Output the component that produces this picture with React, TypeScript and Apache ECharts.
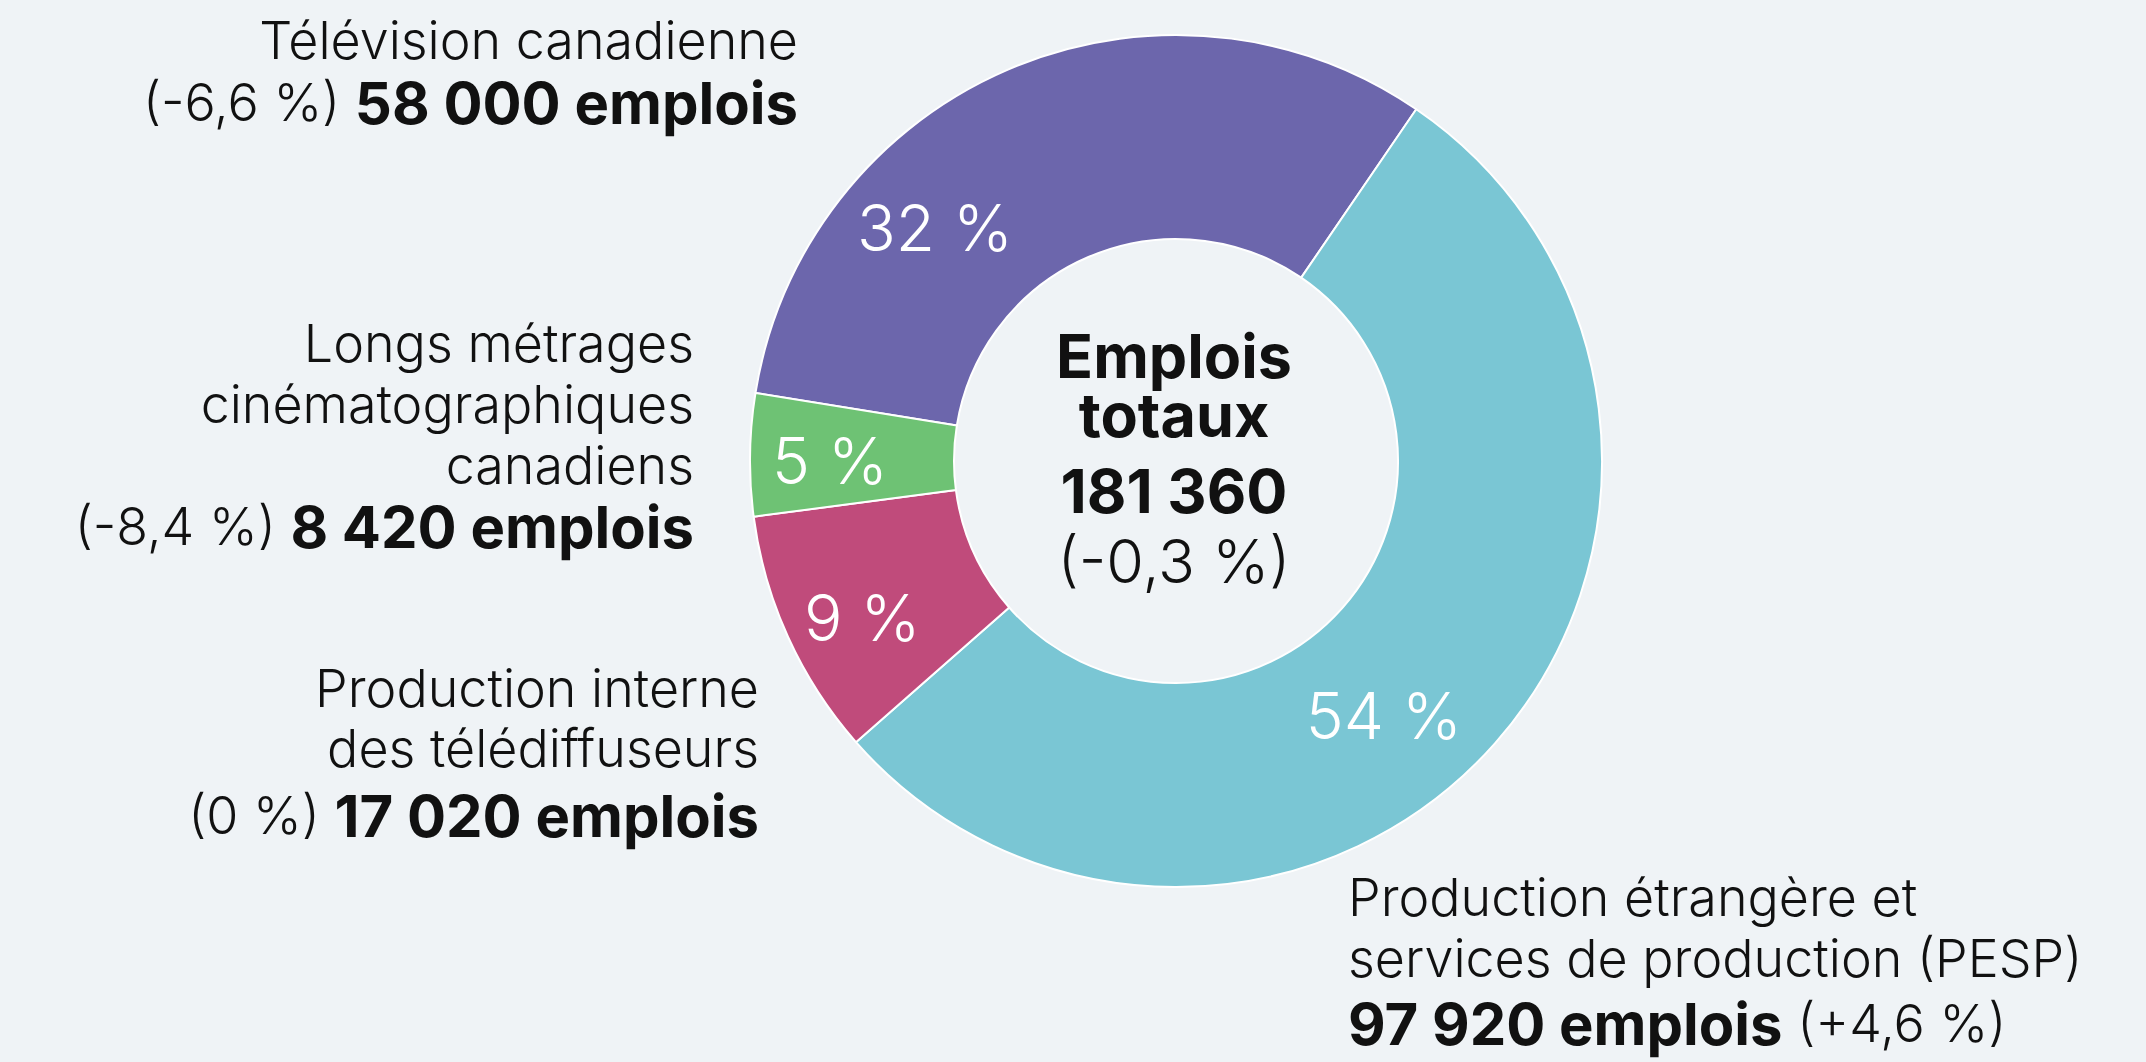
import React, { useEffect, useRef } from "react";
import * as echarts from "echarts";

// ---- Data ----
const categories = [
  "Télévision canadienne",
  "Production étrangère et services de production (PESP)",
  "Production interne des télédiffuseurs",
  "Longs métrages cinématographiques canadiens",
];
const labelLines = [
  ["Télévision canadienne"],
  ["Production étrangère et", "services de production (PESP)"],
  ["Production interne", "des télédiffuseurs"],
  ["Longs métrages", "cinématographiques", "canadiens"],
];
const jobs = [58000, 97920, 17020, 8420];
const changes = [-6.6, 4.6, 0, -8.4];
const totalChange = -0.3;
const centerTitle = ["Emplois", "totaux"];
const jobsWord = "emplois";

// ---- Styling ----
const colors = ["#6C66AC", "#7AC6D4", "#C04B7B", "#6EC274"];
const BG = "#EFF3F6";
const FONT = "Inter, 'Noto Sans', sans-serif";
const LIGHT = 52;
const BOLD = 58;
const CENTRAL = 0.364; // central baseline offset (em)

const blockLayout = [
  { x: 798, align: "right", baselines: [59, 124], boldFirst: false },
  { x: 1348, align: "left", baselines: [916, 977, 1045], boldFirst: true },
  { x: 759, align: "right", baselines: [707, 767, 837], boldFirst: false },
  { x: 694, align: "right", baselines: [362, 423, 484, 548], boldFirst: false },
];
const labelOffsets = [
  [-112, 67],
  [-37, 38],
  [-16, 21],
  [-19, 4],
];

const fmtInt = (n: number) => String(n).replace(/\B(?=(\d{3})+(?!\d))/g, " ");
const fmtPct = (c: number) => (c > 0 ? "+" : "") + String(c).replace(".", ",") + " %";

export default function App() {
  const ref = useRef<HTMLDivElement>(null);
  useEffect(() => {
    if (!ref.current) return;
    const chart = echarts.init(ref.current, undefined, { renderer: "svg" });
    const total = jobs.reduce((a, b) => a + b, 0);

    const graphics: any[] = [];
    blockLayout.forEach((b, i) => {
      const lines = labelLines[i];
      lines.forEach((ln, j) => {
        graphics.push({
          type: "text",
          x: b.x,
          y: b.baselines[j] - CENTRAL * LIGHT,
          style: {
            text: ln,
            fontFamily: FONT,
            fontSize: LIGHT,
            fontWeight: 300,
            fill: "#111111",
            align: b.align,
            verticalAlign: "middle",
          },
        });
      });
      const jobsStr = fmtInt(jobs[i]) + " " + jobsWord;
      const pct = "(" + fmtPct(changes[i]) + ")";
      const text = b.boldFirst ? `{b|${jobsStr}}{l| ${pct}}` : `{l|${pct} }{b|${jobsStr}}`;
      graphics.push({
        type: "text",
        x: b.x,
        y: b.baselines[lines.length] - CENTRAL * BOLD,
        style: {
          text,
          align: b.align,
          verticalAlign: "middle",
          rich: {
            l: { fontFamily: FONT, fontSize: LIGHT, fontWeight: 300, fill: "#111111" },
            b: { fontFamily: FONT, fontSize: BOLD, fontWeight: 700, fill: "#111111" },
          },
        },
      });
    });

    // center text
    const cx = 1174;
    const centerLines = [
      { text: centerTitle[0], base: 378, size: 61, weight: 700 },
      { text: centerTitle[1], base: 437, size: 61, weight: 700 },
      { text: fmtInt(total), base: 513, size: 61, weight: 700 },
      { text: "(" + fmtPct(totalChange) + ")", base: 583, size: 61, weight: 300 },
    ];
    centerLines.forEach((c) => {
      graphics.push({
        type: "text",
        x: cx,
        y: c.base - CENTRAL * c.size,
        style: {
          text: c.text,
          fontFamily: FONT,
          fontSize: c.size,
          fontWeight: c.weight,
          fill: "#111111",
          align: "center",
          verticalAlign: "middle",
        },
      });
    });

    chart.setOption({
      animation: false,
      backgroundColor: BG,
      color: colors,
      series: [
        {
          type: "pie",
          center: [1176, 461],
          radius: [222, 426],
          startAngle: 170.8,
          clockwise: true,
          avoidLabelOverlap: false,
          itemStyle: { borderColor: "#FFFFFF", borderWidth: 2 },
          label: {
            show: true,
            position: "inside",
            color: "#FFFFFF",
            fontFamily: FONT,
            fontSize: 64,
            fontWeight: 300,
            formatter: (p: any) => Math.round(p.percent) + " %",
          },
          labelLine: { show: false },
          labelLayout: (p: any) => ({
            dx: labelOffsets[p.dataIndex][0],
            dy: labelOffsets[p.dataIndex][1],
          }),
          emphasis: { disabled: true },
          data: categories.map((name, i) => ({ name, value: jobs[i] })),
        },
      ],
      graphic: graphics,
    });
    return () => chart.dispose();
  }, []);
  return (
    <div
      ref={ref}
      style={{ position: "absolute", left: 0, top: 0, width: 2146, height: 1062 }}
    />
  );
}
